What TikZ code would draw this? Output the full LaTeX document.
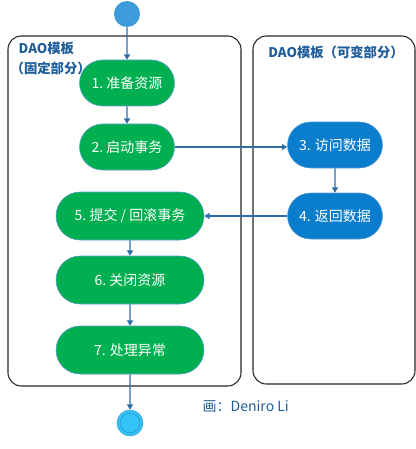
\documentclass[tikz,border=0pt]{standalone}
\usepackage{fontspec}
\newfontfamily\cjk{Noto Sans CJK SC}
\usetikzlibrary{shapes.misc, arrows.meta, positioning}
\definecolor{stepgreen}{HTML}{00B050}
\definecolor{stepblue}{HTML}{0A7DCC}
\definecolor{flowline}{HTML}{2E6DA4}
\definecolor{edgeblue}{HTML}{5B9BD5}
\definecolor{titleblue}{HTML}{1F5E9B}
\definecolor{startblue}{HTML}{3B9BDB}
\definecolor{endblue}{HTML}{33C3F4}
\definecolor{ringblue}{HTML}{2A93D5}

\begin{document}
\begin{tikzpicture}[x=0.75pt, y=-0.75pt, font=\cjk\fontsize{10.5}{12}\selectfont,
        lane/.style={draw=black!85, line width=0.8pt, rounded corners=10pt},
        stepbox/.style={rounded rectangle, draw=edgeblue, thin, text=white,
            minimum width=71.25pt, minimum height=34.5pt, inner sep=0pt},
        wide/.style={stepbox, minimum width=111pt, minimum height=36pt},
        flow/.style={draw=flowline, thick, -{Triangle[width=4.5pt,length=4pt]}},
        title/.style={text=titleblue, font=\cjk\bfseries\fontsize{10}{12}\selectfont}]
        \useasboundingbox (0,0) rectangle (416,449);
        % swimlanes
        \draw[lane] (8,36) rectangle (241,386);
        \draw[lane] (253,36) rectangle (415,384);
        \node[title, anchor=west] (fixA) at (14,48) {DAO模板};
        \node[title, anchor=west] (fixB) at (6,68) {（固定部分）};
        \node[title] (vary) at (336,52) {DAO模板（可变部分）};
        % start / end
        \node[circle, fill=startblue, minimum size=19.5pt, inner sep=0pt] (start) at (127,14) {};
        \node[circle, fill=endblue, draw=ringblue!70!endblue, thin,
            minimum size=19.5pt, inner sep=0pt] (stop) at (130,423) {};
        \draw[ringblue, thin] (stop) circle (10);
        % fixed part
        \node[stepbox, fill=stepgreen] (s1) at (127,83) {1.\ 准备资源};
        \node[stepbox, fill=stepgreen] (s2) at (127,147) {2.\ 启动事务};
        \node[wide, fill=stepgreen] (s5) at (130,216) {5.\ 提交 / 回滚事务};
        \node[wide, fill=stepgreen] (s6) at (130,280) {6.\ 关闭资源};
        \node[wide, fill=stepgreen] (s7) at (130,350) {7. 处理异常};
        % variable part
        \node[stepbox, fill=stepblue] (s3) at (335,145) {3. 访问数据};
        \node[stepbox, fill=stepblue] (s4) at (335,216) {4. 返回数据};
        \node[text=titleblue, anchor=west] (sign) at (198,407) {画：Deniro Li};
        % connectors
        \draw[flow] (start) -- (s1);
        \draw[flow] (s1) -- (s2);
        \draw[flow] (s2.east) -- (s2.east -| s3.west);
        \draw[flow] (s3) -- (s4);
        \draw[flow] (s4.west) -- (s5.east);
        \draw[flow] (s5) -- (s6);
        \draw[flow] (s6) -- (s7);
        \draw[flow] (s7) -- (stop);
    \end{tikzpicture}
\end{document}
